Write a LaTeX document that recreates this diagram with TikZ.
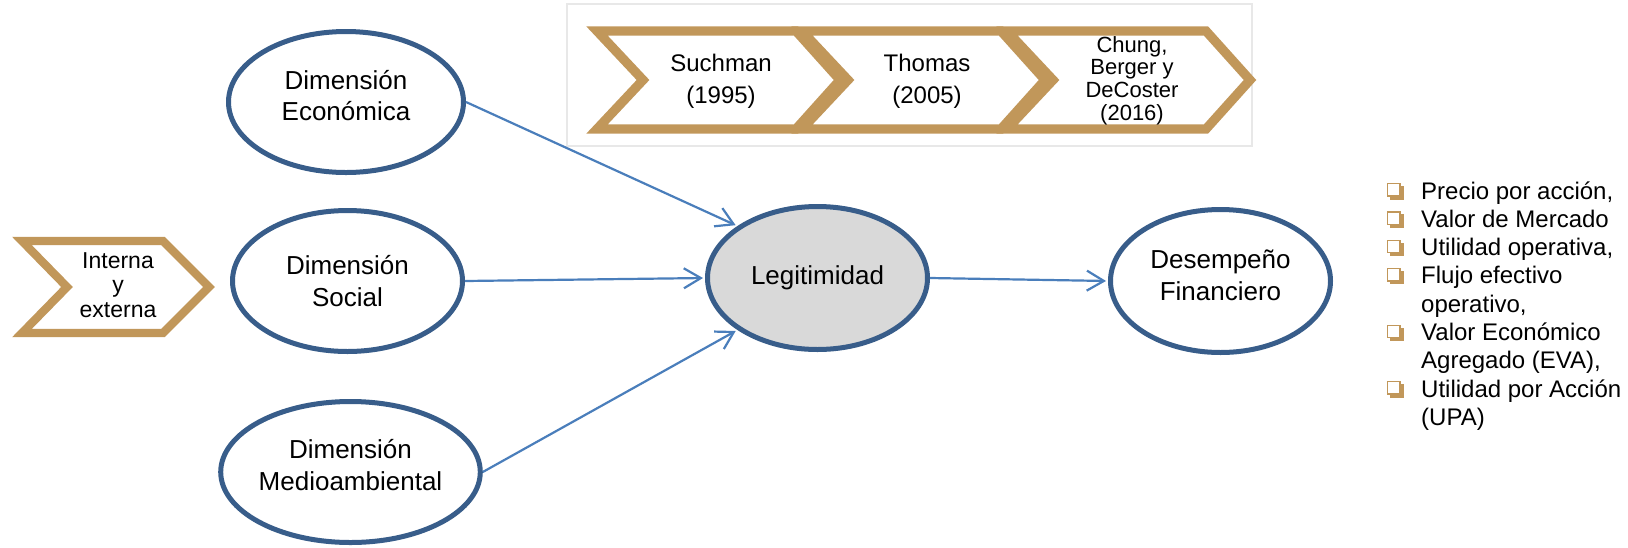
\documentclass[tikz,border=0pt]{standalone}
\usepackage{fontspec}
\setmainfont{Liberation Sans}
\usetikzlibrary{arrows.meta,shapes.geometric}
\definecolor{ebord}{RGB}{56,93,138}
\definecolor{arr}{RGB}{74,126,187}
\definecolor{gold}{RGB}{193,151,90}
\definecolor{lgray}{RGB}{217,217,217}
\definecolor{framec}{RGB}{232,232,232}
\begin{document}
\begin{tikzpicture}[x=1pt,y=-1pt,
  ell/.style={ellipse, draw=ebord, line width=5pt, fill=white, inner sep=0pt,
    align=center, font=\fontsize{26}{31.5}\selectfont},
  conn/.style={draw=arr, line width=2.2pt, shorten >=2pt,
    -{Straight Barb[length=17pt,width=20pt]}},
  chev/.style={draw=gold, line width=9.3pt, line join=miter, fill=white},
  ctext/.style={align=center, inner sep=0pt},
  ltext/.style={anchor=base west, inner sep=0pt, font=\fontsize{24}{28}\selectfont},
  chk/.pic={
    \fill[gold] (3,13) rectangle (16.5,16.5);
    \fill[gold] (13,3) rectangle (16.5,16.5);
    \draw[gold, line width=1.3pt] (0.7,0.7) rectangle (13,13);
  }]
\useasboundingbox (0,0) rectangle (1628,547);
% frame of the timeline
\draw[framec, line width=1.5pt] (567,4) rectangle (1252,146);
% timeline chevrons
\draw[chev] (597,31) -- (796,31) -- (840,80) -- (796,129) -- (597,129) -- (643,80) -- cycle;
\draw[chev] (802,31) -- (1001,31) -- (1045,80) -- (1001,129) -- (802,129) -- (848,80) -- cycle;
\draw[chev] (1007,31) -- (1206,31) -- (1250,80) -- (1206,129) -- (1007,129) -- (1053,80) -- cycle;
\node[ctext, font=\fontsize{24}{32}\selectfont] (t1) at (721,80.8) {Suchman\\(1995)};
\node[ctext, font=\fontsize{24}{32}\selectfont] (t2) at (927,80.8) {Thomas\\(2005)};
\node[ctext, font=\fontsize{22}{22.7}\selectfont] (t3) at (1132,80.4) {Chung,\\Berger y\\DeCoster\\(2016)};
% left chevron
\draw[chev, line width=8.3pt] (22,241) -- (163,241) -- (209,287) -- (163,333) -- (22,333) -- (67,287) -- cycle;
\node[ctext, font=\fontsize{23}{24.5}\selectfont] (ie) at (118,285) {Interna\\y\\externa};
% ellipses
\node[ell, minimum width=235pt, minimum height=141pt, text depth=13.4pt] (Econ) at (346,102) {Dimensión\\Económica};
\node[ell, minimum width=230pt, minimum height=141pt] (Social) at (347.5,281) {Dimensión\\Social};
\node[ell, minimum width=240pt, minimum height=141pt, text depth=14.6pt] (Medio) at (350.5,472) {Dimensión\\Medioambiental};
\node[ell, minimum width=220pt, minimum height=143pt, fill=lgray] (Legit) at (817.5,278) {Legitimidad};
\node[ell, minimum width=220pt, minimum height=143pt, text depth=12pt] (Desemp) at (1220.5,281) {Desempeño\\Financiero};
% connectors
\draw[conn] (Econ.east) -- (Legit.147);
\draw[conn] (Social.east) -- (Legit.west);
\draw[conn] (Medio.east) -- (Legit.213);
\draw[conn] (Legit.east) -- (Desemp.west);
% list
\pic at (1387,183) {chk};
\pic at (1387,211.3) {chk};
\pic at (1387,239.6) {chk};
\pic at (1387,267.9) {chk};
\pic at (1387,324.5) {chk};
\pic at (1387,381.1) {chk};
\node[ltext] (l1) at (1421,199) {Precio por acción,};
\node[ltext] (l2) at (1421,227.3) {Valor de Mercado};
\node[ltext] (l3) at (1421,255.6) {Utilidad operativa,};
\node[ltext] (l4) at (1421,283.9) {Flujo efectivo};
\node[ltext] (l5) at (1421,312.2) {operativo,};
\node[ltext] (l6) at (1421,340.5) {Valor Económico};
\node[ltext] (l7) at (1421,368.8) {Agregado (EVA),};
\node[ltext] (l8) at (1421,397.1) {Utilidad por Acción};
\node[ltext] (l9) at (1421,425.4) {(UPA)};
\end{tikzpicture}
\end{document}
